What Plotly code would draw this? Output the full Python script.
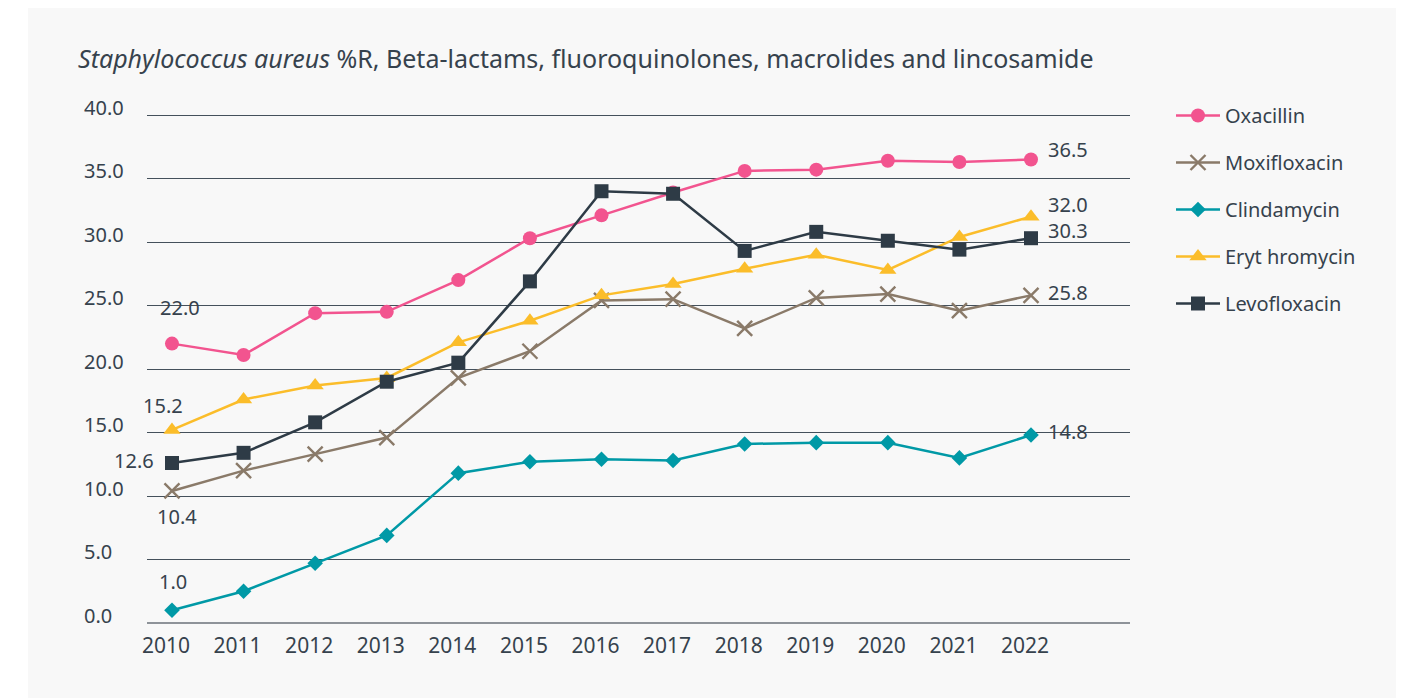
import plotly.graph_objects as go

years = [2010, 2011, 2012, 2013, 2014, 2015, 2016, 2017, 2018, 2019, 2020, 2021, 2022]
oxacillin = [22.0, 21.1, 24.4, 24.5, 27.0, 30.3, 32.1, 33.9, 35.6, 35.7, 36.4, 36.3, 36.5]
moxifloxacin = [10.4, 12.0, 13.3, 14.6, 19.3, 21.4, 25.4, 25.5, 23.2, 25.6, 25.9, 24.6, 25.8]
clindamycin = [1.0, 2.5, 4.7, 6.9, 11.8, 12.7, 12.9, 12.8, 14.1, 14.2, 14.2, 13.0, 14.8]
erythromycin = [15.2, 17.6, 18.7, 19.3, 22.1, 23.8, 25.8, 26.7, 27.9, 29.0, 27.8, 30.4, 32.0]
levofloxacin = [12.6, 13.4, 15.8, 19.0, 20.5, 26.9, 34.0, 33.8, 29.3, 30.8, 30.1, 29.4, 30.3]
y_ticks = [0, 5, 10, 15, 20, 25, 30, 35, 40]
title_html = "<i>Staphylococcus aureus</i> %R, Beta-lactams, fluoroquinolones, macrolides and lincosamide"

FONT = "Noto Sans"
TXT = "#36424d"

series = [
    ("Oxacillin", oxacillin, "#f2548f", dict(symbol="circle", size=14)),
    ("Moxifloxacin", moxifloxacin, "#8a7a69", dict(symbol="x-thin", size=15, line=dict(width=2.4, color="#8a7a69"))),
    ("Clindamycin", clindamycin, "#0099a6", dict(symbol="diamond", size=12)),
    ("Eryt hromycin", erythromycin, "#fbbd2a", dict(symbol="triangle-up", size=15)),
    ("Levofloxacin", levofloxacin, "#2e3b46", dict(symbol="square", size=14)),
]

fig = go.Figure()
for i, (name, vals, color, mk) in enumerate(series):
    fig.add_trace(go.Scatter(
        x=years, y=vals, name=name, mode="lines+markers",
        line=dict(color=color, width=2.5),
        marker=dict(color=color, **mk),
        legendgroup=f"g{i}",
    ))

# page offset (browser body margin)
OFF = 8
# plot area in page px
L, R, T, B = 147, 1130, 113, 623
W, H = 1404 - OFF, 698 - OFF
YMAX = 40.16
pw, ph = R - L, B - T

def px_x(px):
    return (px - L) / pw

def px_y(py):
    return (B - py) / ph

annotations = []
for t in y_ticks:
    annotations.append(dict(
        xref="paper", yref="y", x=px_x(82), y=t, text=f"{t:.1f}",
        xanchor="left", yanchor="middle", yshift=8, showarrow=False,
        font=dict(family=FONT, size=20, color=TXT)))

first_offsets = {
    "Oxacillin": (8, 36),
    "Moxifloxacin": (5, -26),
    "Clindamycin": (1, 29),
    "Eryt hromycin": (-9, 24),
    "Levofloxacin": (-38, 2),
}
for name, vals, color, mk in series:
    dx, dy = first_offsets[name]
    annotations.append(dict(
        xref="x", yref="y", x=years[0], y=vals[0], text=f"{vals[0]:.1f}",
        xanchor="center", yanchor="middle", xshift=dx, yshift=dy, showarrow=False,
        font=dict(family=FONT, size=20, color=TXT)))

last_offsets = {
    "Oxacillin": 10,
    "Moxifloxacin": 3,
    "Clindamycin": 4,
    "Eryt hromycin": 12,
    "Levofloxacin": 8,
}
for name, vals, color, mk in series:
    annotations.append(dict(
        xref="x", yref="y", x=years[-1], y=vals[-1], text=f"{vals[-1]:.1f}",
        xanchor="left", yanchor="middle", xshift=15, yshift=last_offsets[name], showarrow=False,
        font=dict(family=FONT, size=20, color=TXT)))

shapes = [dict(
    type="rect", xref="paper", yref="paper", layer="below",
    x0=px_x(28), x1=px_x(1410), y0=px_y(705), y1=px_y(5),
    fillcolor="#f8f8f8", line=dict(width=0))]

fig.update_layout(
    width=W, height=H,
    margin=dict(l=L - OFF, r=(W + OFF) - R, t=T - OFF, b=(H + OFF) - B, pad=0),
    paper_bgcolor="white",
    plot_bgcolor="rgba(0,0,0,0)",
    font=dict(family=FONT, size=20, color=TXT),
    title=dict(text=title_html, xref="container", yref="container",
               x=(78 - OFF) / W, xanchor="left", y=1 - (59 - OFF) / H, yanchor="middle",
               font=dict(family=FONT, size=25, color=TXT)),
    xaxis=dict(range=[2009.651, 2023.383], tickmode="array", tickvals=years,
               ticktext=[str(y) for y in years], showgrid=False, zeroline=False,
               showline=False, ticks="", ticklabelshift=-6, ticklabelstandoff=8,
               tickfont=dict(family=FONT, size=21, color=TXT)),
    yaxis=dict(range=[0, YMAX], tickmode="array", tickvals=y_ticks, showticklabels=False,
               showgrid=True, gridcolor="#44505b", gridwidth=1,
               zeroline=True, zerolinecolor="#8e9399", zerolinewidth=1.5, showline=False),
    legend=dict(x=px_x(1171), y=px_y(96), xanchor="left", yanchor="top",
                bgcolor="rgba(0,0,0,0)", tracegroupgap=18, itemwidth=44,
                font=dict(family=FONT, size=20, color=TXT)),
    annotations=annotations,
    shapes=shapes,
    showlegend=True,
)

fig.write_html("out.html")
